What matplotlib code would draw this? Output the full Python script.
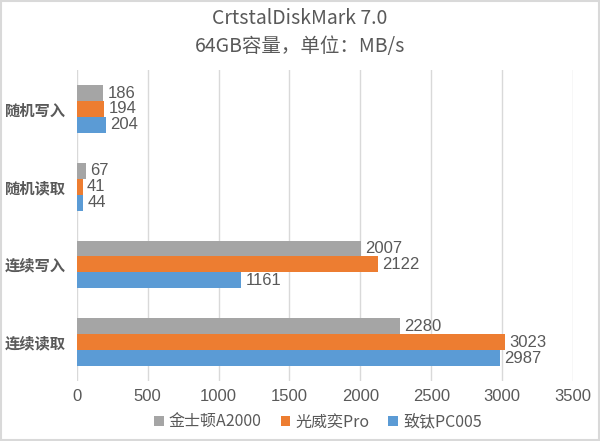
import numpy as np
import matplotlib
matplotlib.use("Agg")
import matplotlib.pyplot as plt
from matplotlib.patches import Rectangle

plt.rcParams['font.family'] = ['Noto Sans CJK SC', 'DejaVu Sans']

# 数据
categories = ["随机写入", "随机读取", "连续写入", "连续读取"]
series_names = ["金士顿A2000", "光威奕Pro", "致钛PC005"]
kingston = [186, 67, 2007, 2280]
gloway = [194, 41, 2122, 3023]
zhitai = [204, 44, 1161, 2987]
colors = ["#A5A5A5", "#ED7D31", "#5B9BD5"]
text_color = "#595959"

fig = plt.figure(figsize=(6, 4.41), dpi=100)
ax = fig.add_axes([0.128, 0.136, 0.827, 0.705])

y = np.arange(len(categories))
h = 0.205
for i, (vals, name, c) in enumerate(zip([kingston, gloway, zhitai], series_names, colors)):
    pos = y + (i - 1) * h
    ax.barh(pos, vals, height=h, color=c, label=name, zorder=3)
    for p, v in zip(pos, vals):
        ax.text(v + 30, p, str(v), va="center", ha="left", fontsize=12,
                color=text_color, family=['Liberation Sans', 'DejaVu Sans'])

ax.set_yticks(y)
ax.set_yticklabels(categories, fontsize=11, color=text_color, fontweight="bold")
ax.set_ylim(len(categories) - 0.5, -0.5)
ax.set_xlim(0, 3500)
ax.set_xticks(np.arange(0, 3501, 500))
ax.tick_params(axis="x", labelsize=12, colors=text_color, length=0, pad=6)
ax.tick_params(axis="y", length=0, pad=8)
for lab in ax.get_xticklabels():
    lab.set_family(['Liberation Sans', 'DejaVu Sans'])
ax.grid(axis="x", color="#D9D9D9", linewidth=1, zorder=0)
for s in ax.spines.values():
    s.set_visible(False)

fig.text(0.5, 0.958, "CrtstalDiskMark 7.0", ha="center", va="center",
         fontsize=14, color=text_color)
fig.text(0.5, 0.895, "64GB容量，单位：MB/s", ha="center", va="center",
         fontsize=14, color=text_color)

leg = fig.legend(loc="center", bbox_to_anchor=(0.53, 0.043), ncol=3, frameon=False,
                 fontsize=11.5, handlelength=0.6, handleheight=0.6, handletextpad=0.3,
                 columnspacing=1.2, labelcolor=text_color)

fig.patches.append(Rectangle((0.002, 0.003), 0.996, 0.994, transform=fig.transFigure,
                             fill=False, edgecolor="#D9D9D9", linewidth=1.5))

fig.savefig("out.png", dpi=100)
